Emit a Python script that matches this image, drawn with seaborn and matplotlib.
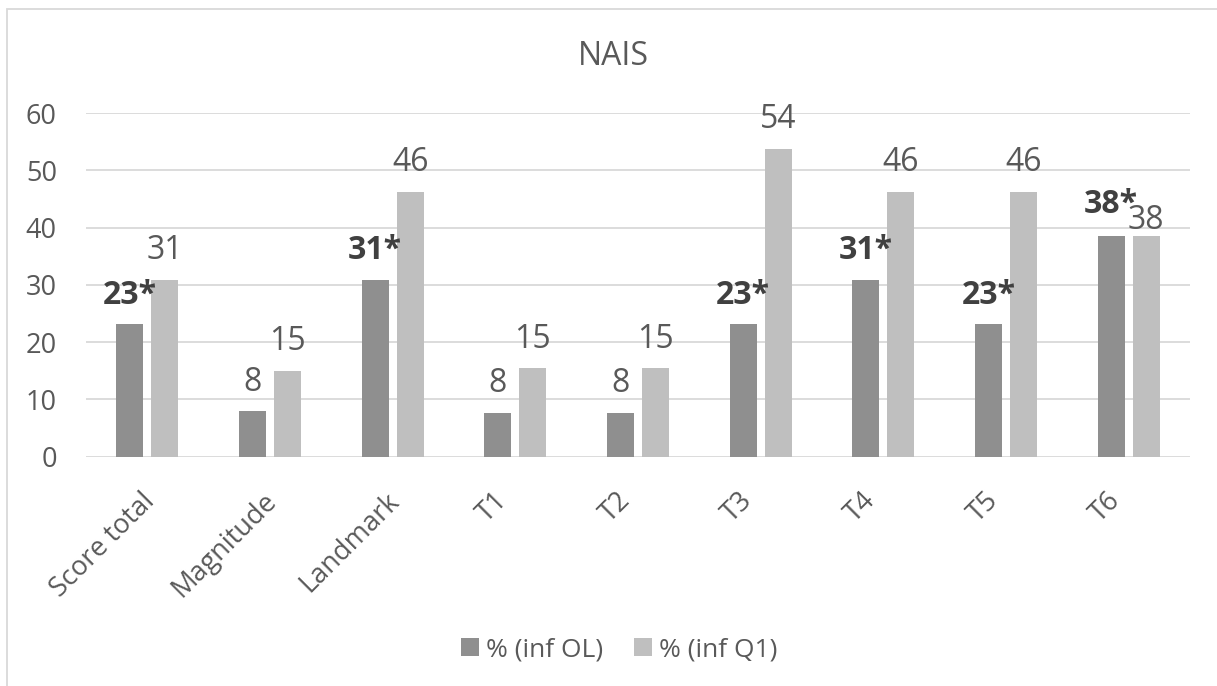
import pandas as pd
import matplotlib
matplotlib.use("Agg")
import matplotlib.pyplot as plt
import matplotlib.transforms as mtransforms
from matplotlib.lines import Line2D
from matplotlib.patches import Rectangle
import seaborn as sns

# =========================
# Dados
# =========================
categorias = ["Score total", "Magnitude", "Landmark", "T1", "T2", "T3", "T4", "T5", "T6"]
series = ["% (inf OL)", "% (inf Q1)"]
valores_ol = [23.1, 7.9, 30.8, 7.7, 7.7, 23.1, 30.8, 23.1, 38.5]
valores_q1 = [30.8, 15.0, 46.2, 15.4, 15.4, 53.8, 46.2, 46.2, 38.5]
rotulos_ol = ["23*", "8", "31*", "8", "8", "23*", "31*", "23*", "38*"]
rotulos_q1 = ["31", "15", "46", "15", "15", "54", "46", "46", "38"]

# deslocamento vertical dos rótulos (pontos)
desloc_ol = [15, 15, 15, 15, 15, 15, 15, 15, 17]
desloc_q1 = [15, 15, 15, 15, 15, 15, 15, 15, 5]
# ajuste horizontal dos rótulos do eixo x (pixels), como no Excel
ajuste_x = [3, 3, 3, -12, -12, -12, -12, -12, -12]

COR_OL = "#8f8f8f"
COR_Q1 = "#bfbfbf"
COR_TEXTO = "#595959"
COR_GRELHA = "#d9d9d9"

df = pd.DataFrame({
    "categoria": categorias * 2,
    "serie": [series[0]] * len(categorias) + [series[1]] * len(categorias),
    "valor": valores_ol + valores_q1,
})

# =========================
# Configuração
# =========================
sns.set_theme(style="white")
plt.rcParams["font.family"] = ["Open Sans", "DejaVu Sans"]

fig = plt.figure(figsize=(12.17, 6.86), dpi=100)
ax = fig.add_axes([86 / 1217, 229.3 / 686, (1190 - 86) / 1217, (456.7 - 113) / 686])

sns.barplot(data=df, x="categoria", y="valor", hue="serie",
            palette=[COR_OL, COR_Q1], width=0.57, gap=0.235,
            linewidth=0, saturation=1, legend=False, ax=ax)

ax.set_ylim(0, 60)
ax.set_xlim(-0.5, len(categorias) - 0.5)
ax.set_yticks(range(0, 61, 10))
ax.yaxis.grid(True, color=COR_GRELHA, linewidth=1.3)
ax.set_axisbelow(True)
for lado in ["top", "right", "left", "bottom"]:
    ax.spines[lado].set_visible(False)
ax.set_xlabel("")
ax.set_ylabel("")
ax.tick_params(axis="y", length=0, pad=21, labelsize=19.5, labelcolor=COR_TEXTO)
ax.tick_params(axis="x", length=0, pad=29, labelsize=19.5, labelcolor=COR_TEXTO)
for lbl, dx in zip(ax.get_xticklabels(), ajuste_x):
    lbl.set_rotation(45)
    lbl.set_ha("right")
    lbl.set_va("center")
    lbl.set_rotation_mode("anchor")
    lbl.set_transform(lbl.get_transform() + mtransforms.Affine2D().translate(dx, 0))

# rótulos de dados
for barras, rotulos, desloc in zip(ax.containers, [rotulos_ol, rotulos_q1], [desloc_ol, desloc_q1]):
    for barra, rot, d in zip(barras, rotulos, desloc):
        ax.annotate(rot, (barra.get_x() + barra.get_width() / 2, barra.get_height()),
                    xytext=(0, d), textcoords="offset points", ha="center", va="baseline",
                    fontsize=23, color="#404040" if "*" in rot else COR_TEXTO,
                    fontweight="bold" if "*" in rot else "normal")

# título
fig.text(613 / 1217, 1 - 65 / 686, "NAIS", ha="center", va="baseline",
         fontsize=23, color=COR_TEXTO)

# legenda
handles = [Line2D([], [], marker="s", linestyle="none", markersize=13,
                  markerfacecolor=c, markeredgewidth=0) for c in [COR_OL, COR_Q1]]
fig.legend(handles, series, loc="center", bbox_to_anchor=(617 / 1217, 1 - 650 / 686),
           ncol=2, frameon=False, fontsize=19, labelcolor=COR_TEXTO,
           handletextpad=0.1, columnspacing=1.0, handlelength=1.0)

# moldura
fig.patches.append(Rectangle((7 / 1217, -0.1), 1.2, 1.1 - 9 / 686, transform=fig.transFigure,
                             fill=False, edgecolor=COR_GRELHA, linewidth=1.3))

fig.savefig("out.png", dpi=100)
plt.close(fig)
